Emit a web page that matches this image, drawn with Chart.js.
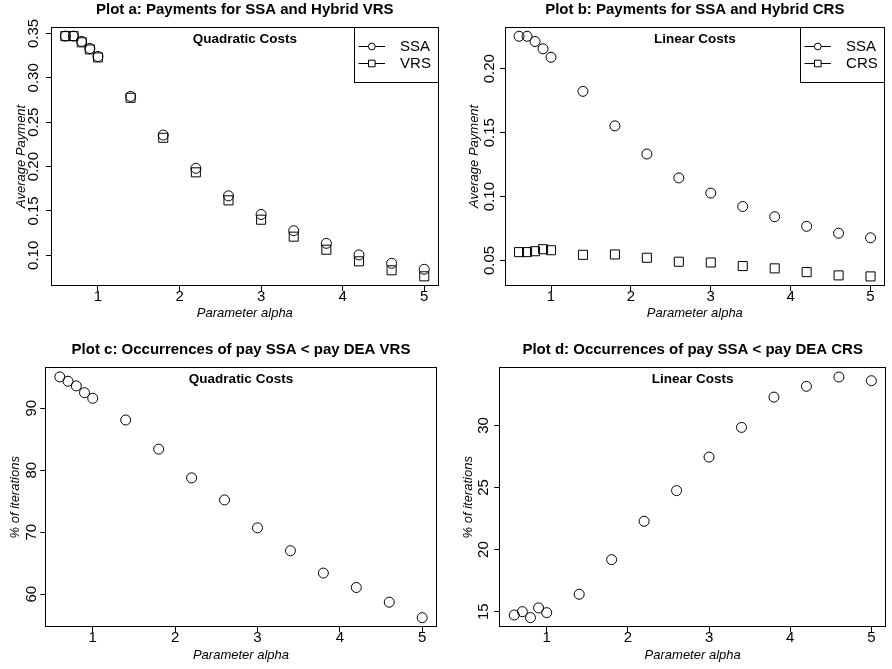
<!DOCTYPE html>
<html>
<head>
<meta charset="utf-8">
<script src="https://cdn.jsdelivr.net/npm/chart.js@4.4.1/dist/chart.umd.min.js"></script>
<style>
html,body{margin:0;padding:0;background:#fff;}
#wrap{position:relative;width:892px;height:669px;overflow:hidden;background:#fff;}
.cell{position:absolute;}
.cell canvas{display:block;}
</style>
</head>
<body>
<div id="wrap">
  <div class="cell" style="left:0;top:0;width:446px;height:320px"><canvas id="pa" width="446" height="320"></canvas></div>
  <div class="cell" style="left:446px;top:0;width:446px;height:320px"><canvas id="pb" width="446" height="320"></canvas></div>
  <div class="cell" style="left:0;top:320px;width:446px;height:349px"><canvas id="pc" width="446" height="349"></canvas></div>
  <div class="cell" style="left:446px;top:320px;width:446px;height:349px"><canvas id="pd" width="446" height="349"></canvas></div>
</div>
<script>
// ---------------- data ----------------
const alpha = [0.6, 0.7, 0.8, 0.9, 1.0, 1.4, 1.8, 2.2, 2.6, 3.0, 3.4, 3.8, 4.2, 4.6, 5.0];

// Plot a: quadratic costs, average payment
const payQuadSSA = [0.347, 0.347, 0.341, 0.333, 0.324, 0.279, 0.2355, 0.198, 0.167, 0.146, 0.1277, 0.1135, 0.1004, 0.091, 0.0842];
const payQuadVRS = [0.347, 0.347, 0.340, 0.332, 0.323, 0.2775, 0.2324, 0.1935, 0.1619, 0.1401, 0.121, 0.1063, 0.0932, 0.0831, 0.0763];

// Plot b: linear costs, average payment
const payLinSSA = [0.2254, 0.2254, 0.2213, 0.2156, 0.209, 0.1823, 0.1553, 0.1333, 0.1146, 0.1027, 0.0922, 0.0842, 0.0767, 0.0713, 0.0677];
const payLinCRS = [0.0565, 0.0565, 0.0572, 0.0588, 0.058, 0.0544, 0.0547, 0.0521, 0.049, 0.0484, 0.0456, 0.0438, 0.0409, 0.0383, 0.0375];

// Plot c / d: % of iterations with pay SSA < pay DEA
const occVRS = [95.05, 94.35, 93.6, 92.5, 91.6, 88.1, 83.4, 78.76, 75.2, 70.7, 67.0, 63.4, 61.07, 58.7, 56.2];
const occCRS = [14.73, 15.0, 14.52, 15.3, 14.92, 16.4, 19.19, 22.28, 24.75, 27.45, 29.84, 32.28, 33.15, 33.9, 33.6];

// tick labels
const xTicks = [1, 2, 3, 4, 5];
const yTicksA = [0.10, 0.15, 0.20, 0.25, 0.30, 0.35];
const yTicksB = [0.05, 0.10, 0.15, 0.20];
const yTicksC = [60, 70, 80, 90];
const yTicksD = [15, 20, 25, 30];

// ---------------- rendering ----------------
const FONT = '"Liberation Sans", Arial, Helvetica, sans-serif';
Chart.defaults.color = '#000';
Chart.defaults.font.family = FONT;

const toPts = (xs, ys) => xs.map((x, i) => ({x: x, y: ys[i]}));

const framePlugin = {
  id: 'frame',
  afterDraw(chart, args, opts) {
    const ctx = chart.ctx, a = chart.chartArea;
    ctx.save();
    ctx.strokeStyle = '#000';
    ctx.lineWidth = 1;
    const l = Math.round(a.left) + 0.5, t = Math.round(a.top) + 0.5;
    const r = Math.round(a.right) - 0.5, b = Math.round(a.bottom) - 0.5;
    ctx.strokeRect(l, t, r - l, b - t);
    // inner sub-label
    ctx.fillStyle = '#000';
    ctx.font = 'bold 13.5px ' + FONT;
    ctx.textAlign = 'center';
    ctx.textBaseline = 'middle';
    ctx.fillText(opts.subtitle, (a.left + a.right) / 2, a.top + opts.subY);
    // legend box
    if (opts.legend) {
      const w = 84.5, h = 55.3;
      const bx = Math.round(a.right - w) + 0.5, by = t;
      ctx.strokeRect(bx, by, Math.round(a.right) - 0.5 - bx, Math.round(h));
      ctx.font = '15px ' + FONT;
      ctx.textAlign = 'left';
      chart.data.datasets.forEach((ds, i) => {
        const y = Math.round(a.top + 19 + i * 17.6) + 0.5;
        ctx.beginPath();
        ctx.moveTo(bx + 4, y);
        ctx.lineTo(bx + 30.5, y);
        ctx.stroke();
        const cx = bx + 17.3;
        ctx.fillStyle = '#fff';
        ctx.beginPath();
        if (ds.pointStyle === 'rect') {
          ctx.rect(cx - 3.3, y - 3.3, 6.6, 6.6);
        } else {
          ctx.arc(cx, y, 3.4, 0, Math.PI * 2);
        }
        ctx.fill();
        ctx.stroke();
        ctx.fillStyle = '#000';
        ctx.fillText(ds.label, bx + 45.6, y + 0.5);
      });
    }
    ctx.restore();
  }
};

function panel(id, p) {
  const datasets = p.series.map(s => ({
    label: s.label,
    data: toPts(alpha, s.values),
    pointStyle: s.style,
    pointRadius: s.style === 'rect' ? 6.4 : 5,
    pointHoverRadius: s.style === 'rect' ? 6.4 : 5,
    pointBorderWidth: 1,
    pointBorderColor: '#000',
    pointBackgroundColor: 'rgba(0,0,0,0)',
    borderColor: '#000',
    backgroundColor: 'rgba(0,0,0,0)',
    showLine: false
  }));
  const g = p.geo;
  return new Chart(document.getElementById(id), {
    type: 'scatter',
    data: {datasets},
    plugins: [framePlugin],
    options: {
      responsive: false,
      animation: false,
      events: [],
      layout: {padding: {left: 0, right: g.W - g.right, top: 0, bottom: 0}},
      plugins: {
        legend: {display: false},
        tooltip: {enabled: false},
        title: {
          display: true, text: p.title, fullSize: false, color: '#000',
          font: {size: 15, weight: 'bold', family: FONT, lineHeight: 1.2},
          padding: {top: g.titleCY - 9, bottom: g.top - 18 - (g.titleCY - 9)}
        },
        frame: {subtitle: p.subtitle, subY: g.subY, legend: p.legend}
      },
      scales: {
        x: {
          type: 'linear', position: 'bottom',
          min: p.xRange[0], max: p.xRange[1],
          afterBuildTicks: s => { s.ticks = xTicks.map(v => ({value: v})); },
          afterFit: s => { s.height = g.H - g.bottom; },
          border: {display: false},
          grid: {drawOnChartArea: false, drawTicks: true, tickLength: 5, color: '#000', tickColor: '#000', lineWidth: 1},
          ticks: {
            color: '#000', font: {size: 15, family: FONT, lineHeight: 1},
            padding: g.xLabCY - g.bottom - 5 - 7.5,
            maxRotation: 0, minRotation: 0, autoSkip: false,
            callback: v => String(v)
          },
          title: {
            display: true, text: 'Parameter alpha', color: '#000',
            font: {size: 13, style: 'italic', family: FONT, lineHeight: 1},
            padding: {top: 0, bottom: g.H - g.xTitCY - 6.5}
          }
        },
        y: {
          type: 'linear', position: 'left',
          min: p.yRange[0], max: p.yRange[1],
          afterBuildTicks: s => { s.ticks = p.yTicks.map(v => ({value: v})); },
          afterFit: s => { s.width = g.left; },
          border: {display: false},
          grid: {drawOnChartArea: false, drawTicks: true, tickLength: 5, color: '#000', tickColor: '#000', lineWidth: 1},
          ticks: {
            color: '#000', font: {size: 15, family: FONT, lineHeight: 1},
            minRotation: 90, maxRotation: 90, crossAlign: 'center', autoSkip: false,
            padding: g.left - 5 - p.labelHalf - g.yLabCX,
            callback: v => v.toFixed(p.decimals)
          },
          title: {
            display: true, text: p.yTitle, color: '#000',
            font: {size: 13, style: 'italic', family: FONT, lineHeight: 1},
            padding: {top: g.yTitCX - 6.5, bottom: 0}
          }
        }
      }
    }
  });
}

panel('pa', {
  title: 'Plot a: Payments for SSA and Hybrid VRS',
  subtitle: 'Quadratic Costs',
  yTitle: 'Average Payment',
  series: [{label: 'SSA', values: payQuadSSA, style: 'circle'}, {label: 'VRS', values: payQuadVRS, style: 'rect'}],
  legend: true,
  xRange: [0.424, 5.176], yRange: [0.0654, 0.3576], yTicks: yTicksA, decimals: 2, labelHalf: 14.6,
  geo: {W: 446, H: 320, left: 51, right: 442, top: 26.7, bottom: 286, titleCY: 10, subY: 12.6,
        yTitCX: 21.7, yLabCX: 33.5, xLabCY: 296.7, xTitCY: 313.3}
});

panel('pb', {
  title: 'Plot b: Payments for SSA and Hybrid CRS',
  subtitle: 'Linear Costs',
  yTitle: 'Average Payment',
  series: [{label: 'SSA', values: payLinSSA, style: 'circle'}, {label: 'CRS', values: payLinCRS, style: 'rect'}],
  legend: true,
  xRange: [0.424, 5.176], yRange: [0.030, 0.2329], yTicks: yTicksB, decimals: 2, labelHalf: 14.6,
  geo: {W: 446, H: 320, left: 59, right: 449.8, top: 26.7, bottom: 286, titleCY: 10, subY: 12.6,
        yTitCX: 28.3, yLabCX: 44, xLabCY: 297, xTitCY: 313.3}
});

panel('pc', {
  title: 'Plot c: Occurrences of pay SSA < pay DEA VRS',
  subtitle: 'Quadratic Costs',
  yTitle: '% of iterations',
  series: [{label: 'SSA < VRS', values: occVRS, style: 'circle'}],
  legend: false,
  xRange: [0.424, 5.176], yRange: [54.65, 96.6], yTicks: yTicksC, decimals: 0, labelHalf: 8.35,
  geo: {W: 446, H: 349, left: 45.3, right: 436.7, top: 47.3, bottom: 307.3, titleCY: 30, subY: 12,
        yTitCX: 15, yLabCX: 31.7, xLabCY: 318.3, xTitCY: 335}
});

panel('pd', {
  title: 'Plot d: Occurrences of pay SSA < pay DEA CRS',
  subtitle: 'Linear Costs',
  yTitle: '% of iterations',
  series: [{label: 'SSA < CRS', values: occCRS, style: 'circle'}],
  legend: false,
  xRange: [0.416, 5.18], yRange: [13.74, 34.68], yTicks: yTicksD, decimals: 0, labelHalf: 8.35,
  geo: {W: 446, H: 349, left: 53.3, right: 445, top: 47.3, bottom: 307.3, titleCY: 30, subY: 12,
        yTitCX: 22.7, yLabCX: 38.3, xLabCY: 318.3, xTitCY: 335}
});
</script>
</body>
</html>
